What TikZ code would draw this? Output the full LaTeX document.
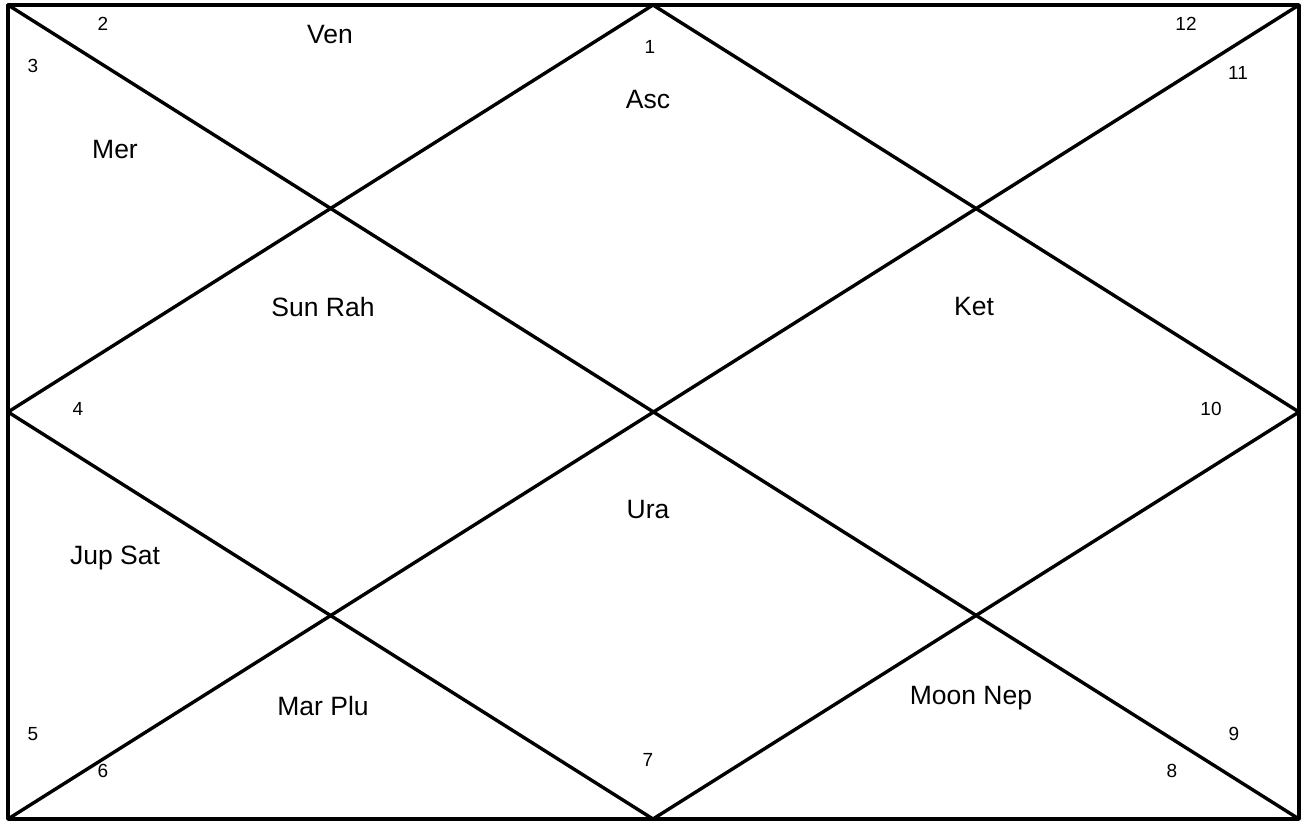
\documentclass[tikz,border=0pt]{standalone}
\usepackage{fontspec}
\setmainfont{Liberation Sans}
\begin{document}
\begin{tikzpicture}[x=1pt,y=-1pt,
  chartline/.style={line width=3.4pt,line cap=round,line join=round,black},
  planet/.style={font=\fontsize{26.5}{31}\selectfont,inner sep=0pt},
  housenum/.style={font=\fontsize{19}{22}\selectfont,inner sep=0pt}]
\useasboundingbox[fill=white] (0,0) rectangle (1301,821);
\coordinate (tl) at (8,5);
\coordinate (tr) at (1299,5);
\coordinate (bl) at (8,819);
\coordinate (br) at (1299,819);
\coordinate (tm) at (653,5);
\coordinate (bm) at (653,819);
\coordinate (lm) at (8,412);
\coordinate (rm) at (1299,412);
\draw[chartline] (tl) -- (tr) -- (br) -- (bl) -- cycle;
\draw[chartline] (tl) -- (br);
\draw[chartline] (tr) -- (bl);
\draw[chartline] (tm) -- (rm) -- (bm) -- (lm) -- cycle;
% house numbers
\node[housenum] (n1) at (650,47) {1};
\node[housenum] (n2) at (103,24) {2};
\node[housenum] (n3) at (33,66) {3};
\node[housenum] (n4) at (78,409) {4};
\node[housenum] (n5) at (33,734) {5};
\node[housenum] (n6) at (103,771) {6};
\node[housenum] (n7) at (648,760) {7};
\node[housenum] (n8) at (1172,771) {8};
\node[housenum] (n9) at (1234,734) {9};
\node[housenum] (n10) at (1211,409) {10};
\node[housenum] (n11) at (1238,73) {11};
\node[housenum] (n12) at (1186,24) {12};
% planets
\node[planet] (ven) at (330,35) {Ven};
\node[planet] (asc) at (648,100) {Asc};
\node[planet] (mer) at (115,150) {Mer};
\node[planet] (sunrah) at (323,307) {Sun Rah};
\node[planet] (ket) at (974,307) {Ket};
\node[planet] (ura) at (648,510) {Ura};
\node[planet] (jupsat) at (115,558) {Jup Sat};
\node[planet] (marplu) at (323,706) {Mar Plu};
\node[planet] (moonnep) at (971,698) {Moon Nep};
\end{tikzpicture}
\end{document}
